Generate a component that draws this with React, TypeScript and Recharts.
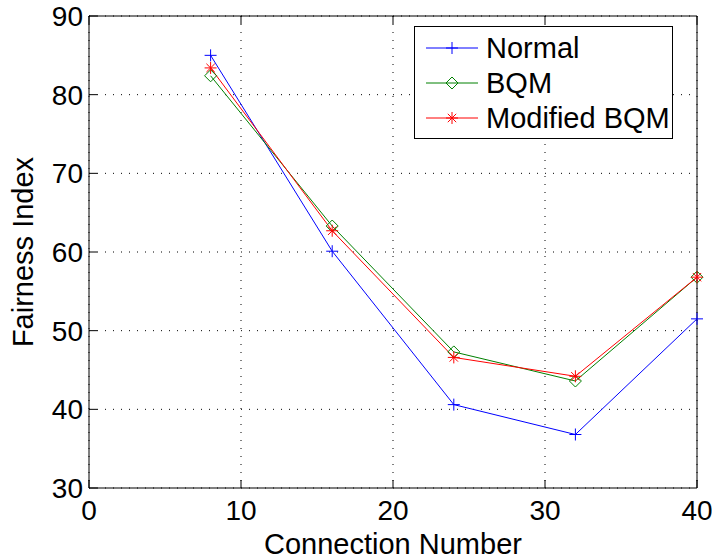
import { CartesianGrid, Line, LineChart, XAxis, YAxis } from 'recharts'

const connections = [8, 16, 24, 32, 40]
const normal = [85, 60.1, 40.6, 36.8, 51.5]
const bqm = [82.4, 63.3, 47.3, 43.6, 56.8]
const modifiedBqm = [83.4, 62.7, 46.6, 44.2, 56.8]

const xTicks = [0, 10, 20, 30, 40]
const yTicks = [30, 40, 50, 60, 70, 80, 90]

const data = connections.map((n, i) => ({
  n,
  normal: normal[i],
  bqm: bqm[i],
  modified: modifiedBqm[i],
}))

const FONT = '"Liberation Sans", Arial, Helvetica, sans-serif'
const TICK = 8

// matlab-ish markers
function PlusMark({ cx, cy, color }: { cx: number; cy: number; color: string }) {
  const r = 6
  return (
    <g stroke={color} strokeWidth={1}>
      <line x1={cx - r} y1={cy} x2={cx + r} y2={cy} />
      <line x1={cx} y1={cy - r} x2={cx} y2={cy + r} />
    </g>
  )
}

function DiamondMark({ cx, cy, color }: { cx: number; cy: number; color: string }) {
  const r = 6
  return (
    <polygon
      points={`${cx},${cy - r} ${cx + r},${cy} ${cx},${cy + r} ${cx - r},${cy}`}
      fill="none"
      stroke={color}
      strokeWidth={1}
    />
  )
}

function StarMark({ cx, cy, color }: { cx: number; cy: number; color: string }) {
  const r = 6
  const d = r * 0.7
  return (
    <g stroke={color} strokeWidth={1}>
      <line x1={cx - r} y1={cy} x2={cx + r} y2={cy} />
      <line x1={cx} y1={cy - r} x2={cx} y2={cy + r} />
      <line x1={cx - d} y1={cy - d} x2={cx + d} y2={cy + d} />
      <line x1={cx - d} y1={cy + d} x2={cx + d} y2={cy - d} />
    </g>
  )
}

const series = [
  { key: 'normal', name: 'Normal', color: '#0000ff', Mark: PlusMark },
  { key: 'bqm', name: 'BQM', color: '#008000', Mark: DiamondMark },
  { key: 'modified', name: 'Modified BQM', color: '#ff0000', Mark: StarMark },
]

const LeftTick = (p: any) => (
  <g>
    <text x={p.x - 6} y={p.y + 10} textAnchor="end" fontSize={28} fontFamily={FONT} fill="#000">
      {p.payload.value}
    </text>
    <line x1={p.x} y1={p.y} x2={p.x + TICK} y2={p.y} stroke="#000" />
  </g>
)

const RightTick = (p: any) => (
  <line x1={p.x} y1={p.y} x2={p.x - TICK} y2={p.y} stroke="#000" />
)

const BottomTick = (p: any) => (
  <g>
    <text x={p.x} y={p.y + 32} textAnchor="middle" fontSize={28} fontFamily={FONT} fill="#000">
      {p.payload.value}
    </text>
    <line x1={p.x} y1={p.y} x2={p.x} y2={p.y - TICK} stroke="#000" />
  </g>
)

const TopTick = (p: any) => (
  <line x1={p.x} y1={p.y} x2={p.x} y2={p.y + TICK} stroke="#000" />
)

function LegendBox() {
  return (
    <svg width={260} height={114} style={{ position: 'absolute', left: 414, top: 26 }}>
      <rect x={0.5} y={0.5} width={258} height={112} fill="#fff" stroke="#000" />
      {series.map((s, i) => {
        const y = 22 + i * 35
        const { Mark } = s
        return (
          <g key={s.key}>
            <line x1={12} y1={y} x2={64} y2={y} stroke={s.color} />
            <Mark cx={38} cy={y} color={s.color} />
            <text x={72} y={y + 10} fontSize={29} fontFamily={FONT} fill="#000">
              {s.name}
            </text>
          </g>
        )
      })}
    </svg>
  )
}

export default function App() {
  return (
    <div style={{ position: 'absolute', left: 0, top: 0, width: 712, height: 560, background: '#fff' }}>
      <LineChart width={712} height={560} data={data} margin={{ top: 0, right: 0, bottom: 0, left: 0 }}>
        <CartesianGrid
          xAxisId="b"
          yAxisId="l"
          stroke="#000"
          strokeDasharray="1 7"
          verticalValues={xTicks}
          horizontalValues={yTicks}
        />
        <XAxis
          xAxisId="b"
          dataKey="n"
          type="number"
          domain={[0, 40]}
          ticks={xTicks}
          height={72}
          tickSize={0}
          tickMargin={0}
          tickLine={false}
          axisLine={{ stroke: '#000' }}
          tick={BottomTick}
          label={{
            value: 'Connection Number',
            position: 'insideBottom',
            offset: 6,
            fontSize: 29,
            fontFamily: FONT,
            fill: '#000',
          }}
        />
        <XAxis
          xAxisId="t"
          orientation="top"
          dataKey="n"
          type="number"
          domain={[0, 40]}
          ticks={xTicks}
          height={16}
          tickSize={0}
          tickMargin={0}
          tickLine={false}
          axisLine={{ stroke: '#000' }}
          tick={TopTick}
        />
        <YAxis
          yAxisId="l"
          type="number"
          domain={[30, 90]}
          ticks={yTicks}
          width={89}
          tickSize={0}
          tickMargin={0}
          tickLine={false}
          axisLine={{ stroke: '#000' }}
          tick={LeftTick}
          label={({ viewBox }: any) => (
            <text
              x={viewBox.x + 33}
              y={viewBox.y + viewBox.height / 2}
              transform={`rotate(-90 ${viewBox.x + 33} ${viewBox.y + viewBox.height / 2})`}
              textAnchor="middle"
              fontSize={29}
              fontFamily={FONT}
              fill="#000"
            >
              Fairness Index
            </text>
          )}
        />
        <YAxis
          yAxisId="r"
          orientation="right"
          type="number"
          domain={[30, 90]}
          ticks={yTicks}
          width={15}
          tickSize={0}
          tickMargin={0}
          tickLine={false}
          axisLine={{ stroke: '#000' }}
          tick={RightTick}
        />
        {series.map(s => {
          const { Mark } = s
          return (
            <Line
              key={s.key}
              xAxisId="b"
              yAxisId="l"
              dataKey={s.key}
              name={s.name}
              stroke={s.color}
              strokeWidth={1}
              isAnimationActive={false}
              dot={(p: any) => <Mark key={`${s.key}-${p.index}`} cx={p.cx} cy={p.cy} color={s.color} />}
              activeDot={false}
            />
          )
        })}
      </LineChart>
      <LegendBox />
    </div>
  )
}
